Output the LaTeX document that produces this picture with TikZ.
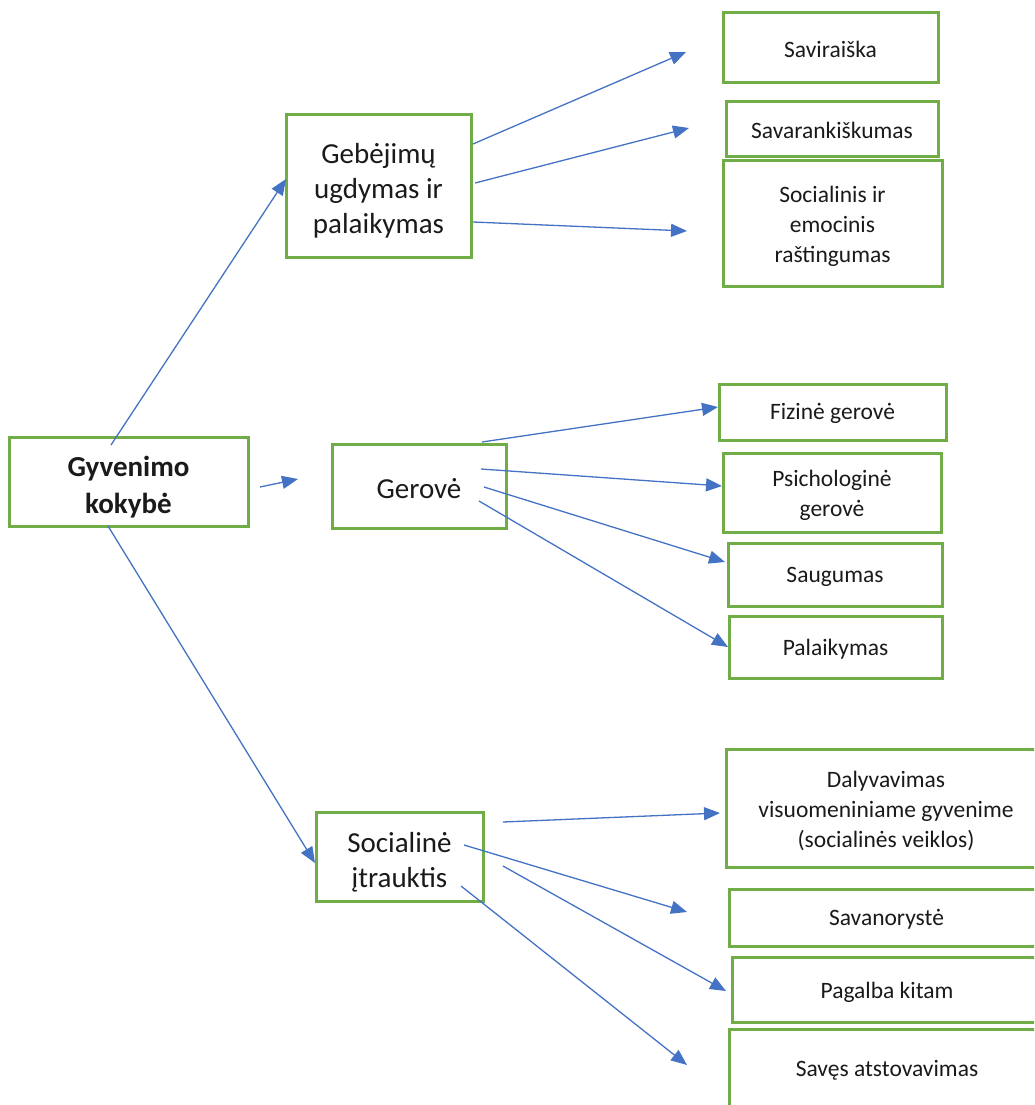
\documentclass[tikz,border=0pt]{standalone}
\usepackage{fontspec}
\setmainfont{Carlito}
\usetikzlibrary{arrows.meta}
\definecolor{boxgreen}{HTML}{70AD47}
\definecolor{arrblue}{HTML}{4472C4}
\definecolor{txt}{HTML}{1A1A1A}
\tikzset{
  box/.style={draw=boxgreen, line width=3pt, inner sep=0pt},
  lbl/.style={inner sep=0pt, align=center, text=txt},
  big/.style={lbl, font=\fontsize{29}{35}\selectfont},
  bigb/.style={lbl, font=\fontsize{29}{37}\selectfont\bfseries},
  small/.style={lbl, font=\fontsize{23.5}{30}\selectfont},
  conn/.style={draw=arrblue, line width=1.3pt, -{Triangle[length=16pt,width=13pt]}}
}
\begin{document}
\begin{tikzpicture}[x=1pt,y=-1pt]
\useasboundingbox (0,0) rectangle (1034,1105);
\clip (0,0) rectangle (1034,1105);
% main boxes
\node[box,minimum width=239pt,minimum height=89pt] (gk) at (128.5,481.5) {};
\node[box,minimum width=185pt,minimum height=142pt] (geb) at (378.5,186) {};
\node[box,minimum width=174pt,minimum height=84pt] (ger) at (419,486) {};
\node[box,minimum width=167pt,minimum height=89pt] (soc) at (399.5,856.5) {};
% leaf boxes
\node[box,minimum width=215pt,minimum height=70pt] (sav) at (830.5,48) {};
\node[box,minimum width=212pt,minimum height=54pt] (sar) at (832,129) {};
\node[box,minimum width=219pt,minimum height=126pt] (sem) at (832.5,223) {};
\node[box,minimum width=227pt,minimum height=56pt] (fiz) at (832.5,412) {};
\node[box,minimum width=218pt,minimum height=79pt] (psi) at (832,492.5) {};
\node[box,minimum width=214pt,minimum height=63pt] (sau) at (835,574.5) {};
\node[box,minimum width=213pt,minimum height=62pt] (pal) at (835.5,647) {};
\node[box,minimum width=320pt,minimum height=118pt] (dal) at (886,808) {};
\node[box,minimum width=315pt,minimum height=57pt] (svn) at (886.5,917.5) {};
\node[box,minimum width=310pt,minimum height=65pt] (pag) at (887,989.5) {};
\node[box,minimum width=316pt,minimum height=78pt] (sve) at (887,1068) {};
% texts
\node[bigb] (gk-t) at ([yshift=-6pt]gk.center) {Gyvenimo\\kokybė};
\node[big] (geb-t) at ([yshift=-5pt]geb.center) {Gebėjimų\\ugdymas ir\\palaikymas};
\node[big] (ger-t) at ([yshift=-3pt]ger.center) {Gerovė};
\node[big] (soc-t) at ([yshift=-6pt]soc.center) {Socialinė\\įtrauktis};
\node[small] (sav-t) at ([yshift=-1pt]sav.center) {Saviraiška};
\node[small] (sar-t) at ([yshift=-1pt]sar.center) {Savarankiškumas};
\node[small] (sem-t) at ([yshift=-3pt]sem.center) {Socialinis ir\\emocinis\\raštingumas};
\node[small] (fiz-t) at ([yshift=-1pt]fiz.center) {Fizinė gerovė};
\node[small] (psi-t) at ([yshift=-3pt]psi.center) {Psichologinė\\gerovė};
\node[small] (sau-t) at ([yshift=-2pt]sau.center) {Saugumas};
\node[small] (pal-t) at ([yshift=-2pt]pal.center) {Palaikymas};
\node[small] (dal-t) at ([yshift=-3pt]dal.center) {Dalyvavimas\\visuomeniniame gyvenime\\(socialinės veiklos)};
\node[small] (svn-t) at ([yshift=-2pt]svn.center) {Savanorystė};
\node[small] (pag-t) at ([yshift=-3pt]pag.center) {Pagalba kitam};
\node[small] (sve-t) at ([yshift=-2pt]sve.center) {Savęs atstovavimas};
% connector end points
\coordinate (gk-a) at (111,445);  \coordinate (geb-in) at (286,179);
\coordinate (gk-b) at (260,487);  \coordinate (ger-in) at (298,479);
\coordinate (gk-c) at (108,526);  \coordinate (soc-in) at (315,863);
\coordinate (geb-a) at (473,144); \coordinate (sav-in) at (686,52);
\coordinate (geb-b) at (475,183); \coordinate (sar-in) at (689,128);
\coordinate (geb-c) at (473,222); \coordinate (sem-in) at (687,231);
\coordinate (ger-a) at (482,442); \coordinate (fiz-in) at (718,407);
\coordinate (ger-b) at (481,469); \coordinate (psi-in) at (722,486);
\coordinate (ger-c) at (484,487); \coordinate (sau-in) at (725,562);
\coordinate (ger-d) at (479,501); \coordinate (pal-in) at (728,647);
\coordinate (soc-a) at (503,822); \coordinate (dal-in) at (720,813);
\coordinate (soc-b) at (464,845); \coordinate (svn-in) at (687,912);
\coordinate (soc-c) at (503,866); \coordinate (pag-in) at (726,991);
\coordinate (soc-d) at (461,886); \coordinate (sve-in) at (687,1065);
% connectors
\draw[conn] (gk-a) -- (geb-in);
\draw[conn] (gk-b) -- (ger-in);
\draw[conn] (gk-c) -- (soc-in);
\draw[conn] (geb-a) -- (sav-in);
\draw[conn] (geb-b) -- (sar-in);
\draw[conn] (geb-c) -- (sem-in);
\draw[conn] (ger-a) -- (fiz-in);
\draw[conn] (ger-b) -- (psi-in);
\draw[conn] (ger-c) -- (sau-in);
\draw[conn] (ger-d) -- (pal-in);
\draw[conn] (soc-a) -- (dal-in);
\draw[conn] (soc-b) -- (svn-in);
\draw[conn] (soc-c) -- (pag-in);
\draw[conn] (soc-d) -- (sve-in);
\end{tikzpicture}
\end{document}
